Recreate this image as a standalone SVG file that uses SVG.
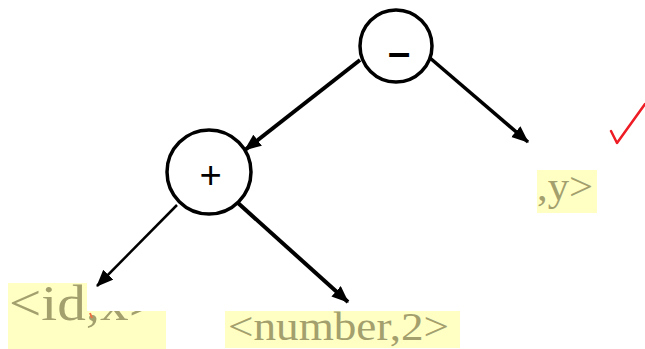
<svg xmlns="http://www.w3.org/2000/svg" width="645" height="349" viewBox="0 0 645 349">
<defs>
<style>
.node{fill:#fff;stroke:#000;stroke-width:3.5}
.op{font-family:"Liberation Sans",sans-serif;fill:#000}
.edge{stroke:#000;fill:none}
.box{fill:#ffffc4}
.lbl{font-family:"Liberation Serif",serif;fill:#a3a06e}
</style>
<marker id="ah" markerUnits="userSpaceOnUse" markerWidth="18" markerHeight="16" refX="16" refY="7" orient="auto">
<path d="M0,0 L17,7 L0,14 Z" fill="#000"/>
</marker>
</defs>
<rect width="645" height="349" fill="#fff"/>
<g id="label-idx">
<rect class="box" x="8" y="283" width="158" height="66"/>
<text class="lbl" x="9" y="320" font-size="50" textLength="152" lengthAdjust="spacingAndGlyphs">&lt;id,x&gt;</text>
<rect x="87" y="270" width="82" height="41" fill="#fff"/>
<path d="M90,313 L92,318" stroke="#f07040" stroke-width="2"/>
</g>
<g id="label-number">
<rect class="box" x="225" y="311" width="235" height="37"/>
<text class="lbl" x="228" y="340" font-size="41" textLength="221" lengthAdjust="spacingAndGlyphs">&lt;number,2&gt;</text>
</g>
<g id="label-y">
<rect class="box" x="537" y="170" width="60" height="43"/>
<text class="lbl" x="537" y="200" font-size="40" textLength="56" lengthAdjust="spacingAndGlyphs">,y&gt;</text>
</g>
<g id="check">
<path d="M611,131 L617,143 L645,104" stroke="#ee1c24" stroke-width="2.5" fill="none" stroke-linejoin="round" stroke-linecap="round"/>
</g>
<g id="node-minus">
<circle class="node" cx="396" cy="46" r="36"/>
<text class="op" x="399" y="66" font-size="40" text-anchor="middle" style="font-weight:bold">–</text>
</g>
<g id="node-plus">
<circle class="node" cx="209" cy="172" r="42"/>
<text class="op" x="210" y="188" font-size="38" text-anchor="middle" style="font-style:italic;font-weight:normal">+</text>
</g>
<g id="connectors">
<line class="edge" x1="360" y1="60" x2="245" y2="150" stroke-width="4" marker-end="url(#ah)"/>
<line class="edge" x1="430" y1="58" x2="528" y2="142" stroke-width="3.5" marker-end="url(#ah)"/>
<line class="edge" x1="177" y1="205" x2="97" y2="286" stroke-width="2.5" marker-end="url(#ah)"/>
<line class="edge" x1="238" y1="203" x2="348" y2="302" stroke-width="4" marker-end="url(#ah)"/>
</g>
</svg>
